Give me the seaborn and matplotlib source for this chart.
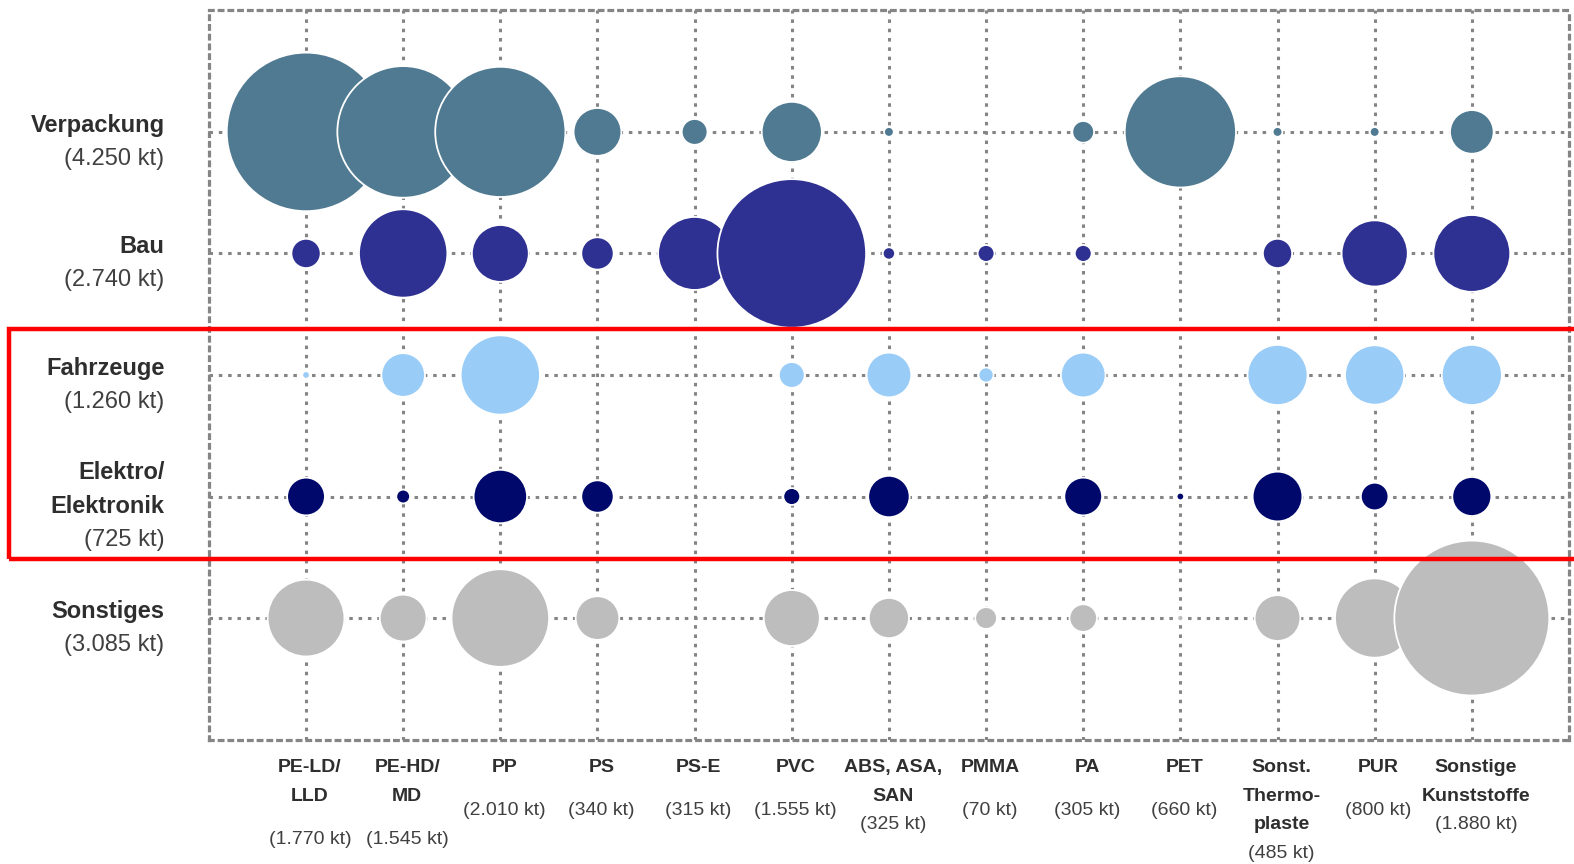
import matplotlib
matplotlib.use("Agg")
import matplotlib.pyplot as plt
from matplotlib import font_manager
from matplotlib.patches import Rectangle
import seaborn as sns
import pandas as pd

# --- data (kt) -------------------------------------------------------------
polymers = ["PE-LD/\nLLD", "PE-HD/\nMD", "PP", "PS", "PS-E", "PVC",
            "ABS, ASA,\nSAN", "PMMA", "PA", "PET", "Sonst.\nThermo-\nplaste",
            "PUR", "Sonstige\nKunststoffe"]
polymer_totals = ["(1.770 kt)", "(1.545 kt)", "(2.010 kt)", "(340 kt)", "(315 kt)",
                  "(1.555 kt)", "(325 kt)", "(70 kt)", "(305 kt)", "(660 kt)",
                  "(485 kt)", "(800 kt)", "(1.880 kt)"]

sectors = ["Verpackung", "Bau", "Fahrzeuge", "Elektro/\nElektronik", "Sonstiges"]
sector_totals = ["(4.250 kt)", "(2.740 kt)", "(1.260 kt)", "(725 kt)", "(3.085 kt)"]

verpackung = [1320, 910, 890, 120, 35, 190, 5, 0, 25, 650, 5, 5, 100]
bau        = [45, 410, 170, 55, 280, 1160, 8, 15, 15, 0, 45, 230, 310]
fahrzeuge  = [3, 100, 330, 0, 0, 35, 105, 12, 105, 0, 190, 185, 190]
elektro    = [75, 10, 150, 55, 0, 15, 90, 0, 75, 3, 130, 40, 80]
sonstiges  = [310, 115, 500, 100, 0, 165, 85, 25, 40, 2, 110, 330, 1260]

sector_colors = ["#4f7a91", "#2e3192", "#99ccf7", "#00086b", "#bdbdbd"]

# --- long-form table --------------------------------------------------------
rows = []
for si, vals in enumerate([verpackung, bau, fahrzeuge, elektro, sonstiges]):
    for pi, v in enumerate(vals):
        if v > 0:
            rows.append({"sector": sectors[si], "sector_idx": si,
                         "polymer_idx": pi, "value": v})
df = pd.DataFrame(rows)

# --- fonts ------------------------------------------------------------------
sns.set_theme(style="white")
available = {f.name for f in font_manager.fontManager.ttflist}
narrow = "Liberation Sans Narrow" if "Liberation Sans Narrow" in available else "Liberation Sans"
plt.rcParams["font.family"] = [narrow, "DejaVu Sans"]
row_fs = 20 if narrow.endswith("Narrow") else 17
col_fs = 16.5 if narrow.endswith("Narrow") else 14

W, H = 1574, 864
fig = plt.figure(figsize=(W / 100, H / 100), dpi=100)
ax = fig.add_axes([0.1327, 0.144, 0.9968 - 0.1327, 0.988 - 0.144])

vmax = max(df["value"])
px_per_pt = 100 / 72
# marker area proportional to value: about 0.21 kt per square pixel of radius
s_max = (2 * (vmax / 0.21) ** 0.5 / px_per_pt) ** 2
sns.scatterplot(data=df, x="polymer_idx", y="sector_idx", hue="sector",
                hue_order=sectors, palette=sector_colors,
                size="value", sizes=(0, s_max), size_norm=(0, vmax),
                edgecolor="white", linewidth=1.3, alpha=1.0,
                legend=False, ax=ax, zorder=3)

ax.set_xlim(-1, 13)
ax.set_ylim(5, -1)
ax.set_xticks(range(len(polymers)))
ax.set_yticks(range(len(sectors)))
ax.set_xticklabels([])
ax.set_yticklabels([])
ax.tick_params(length=0)
ax.set_xlabel("")
ax.set_ylabel("")
ax.set_axisbelow(True)
dotted = (0, (1.15, 1.9))
ax.grid(True, color="#858585", linewidth=2.2, linestyle=dotted)
for sp in ax.spines.values():
    sp.set_visible(True)
    sp.set_color("#858585")
    sp.set_linewidth(2.3)
    sp.set_linestyle(dotted)

# --- sector labels on the left ---------------------------------------------
ux, uy = 96.8, 121.0   # pixels per data unit
text_dark = "#2e2e2e"
for si, (name, tot) in enumerate(zip(sectors, sector_totals)):
    lines = name.split("\n") + [tot]
    n = len(lines)
    for i, line in enumerate(lines):
        off = (10 + (i - (n - 1) / 2) * 33.5) / uy
        bold = i < n - 1
        ax.text((163 - 304) / ux, si + off, line, ha="right", va="center",
                fontsize=row_fs, fontweight="bold" if bold else "normal",
                color=text_dark if bold else "#404040", clip_on=False)

# --- polymer labels below ---------------------------------------------------
tight_value = {6, 10, 12}
y0 = (763 - 130) / uy
step = 28.5 / uy
for pi, (name, tot) in enumerate(zip(polymers, polymer_totals)):
    lines = name.split("\n")
    x = pi + 4 / ux
    for i, line in enumerate(lines):
        ax.text(x, y0 + i * step, line, ha="center", va="center",
                fontsize=col_fs, fontweight="bold", color=text_dark, clip_on=False)
    gap = 28.5 if pi in tight_value else 43
    ax.text(x, y0 + (len(lines) - 1) * step + gap / uy, tot, ha="center",
            va="center", fontsize=col_fs, color="#404040", clip_on=False)

# --- highlight frame around the vehicle and electronics rows --------------
fig.patches.append(Rectangle((9 / 1568, 1 - 557 / 861), 1.2, (557 - 328) / 861,
                             transform=fig.transFigure, fill=False,
                             edgecolor="#ff0000", linewidth=3.2, zorder=10))

fig.savefig("out.png", dpi=100, facecolor="white")
